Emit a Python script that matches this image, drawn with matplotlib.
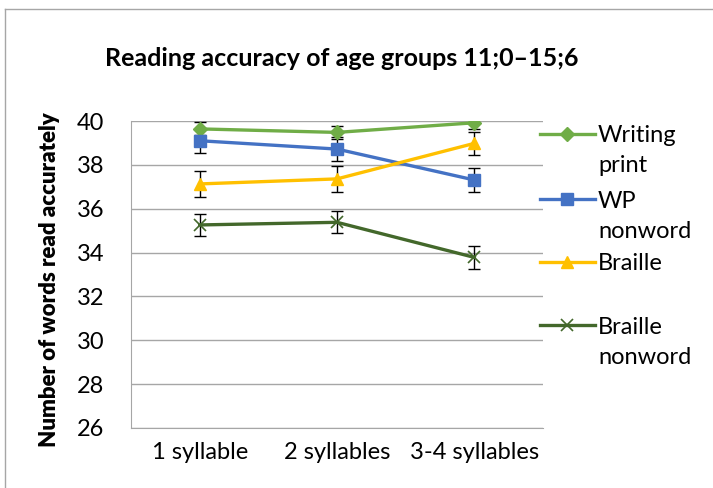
import matplotlib.pyplot as plt
from matplotlib.lines import Line2D

plt.rcParams['font.family'] = ['Lato', 'DejaVu Sans']

categories = ['1 syllable', '2 syllables', '3-4 syllables']

writing_print = [39.64, 39.48, 39.92]
writing_print_err = [0.3, 0.3, 0.3]
wp_nonword = [39.1, 38.72, 37.31]
wp_nonword_err = [0.55, 0.53, 0.55]
braille = [37.13, 37.36, 38.98]
braille_err = [0.58, 0.58, 0.53]
braille_nonword = [35.26, 35.38, 33.78]
braille_nonword_err = [0.51, 0.51, 0.51]

series = [
    ('Writing\nprint', writing_print, writing_print_err, '#70AD47', 'D', 7),
    ('WP\nnonword', wp_nonword, wp_nonword_err, '#4472C4', 's', 8),
    ('Braille', braille, braille_err, '#FFC000', '^', 9),
    ('Braille\nnonword', braille_nonword, braille_nonword_err, '#43682B', 'x', 9),
]

W, H = 713, 488
fig = plt.figure(figsize=(W / 100, H / 100), dpi=100)
ax = fig.add_axes([131 / W, 1 - 428 / H, 412 / W, 307 / H])

x = range(len(categories))
for name, vals, errs, color, marker, ms in series:
    ax.errorbar(x, vals, yerr=errs, fmt='none', ecolor='black', elinewidth=1,
                capsize=4, capthick=1, zorder=2)
    ax.plot(x, vals, color=color, lw=2.4, marker=marker, markersize=ms,
            markeredgewidth=1.2 if marker == 'x' else 1, zorder=3)

ax.set_xlim(-0.5, 2.5)
ax.set_ylim(26, 40)
ax.set_yticks(range(26, 41, 2))
ax.set_xticks(list(x))
ax.set_xticklabels(categories, fontsize=17)
ax.tick_params(axis='y', labelsize=17, length=0, pad=19)
ax.tick_params(axis='x', length=0, pad=10)
ax.grid(axis='y', color='#a6a6a6', lw=1)
ax.set_axisbelow(True)
for s in ['top', 'right']:
    ax.spines[s].set_visible(False)
for s in ['left', 'bottom']:
    ax.spines[s].set_color('#a6a6a6')

fig.text(50 / W, 1 - 280 / H, 'Number of words read accurately', rotation=90,
         ha='center', va='center', fontsize=16, fontweight='heavy')

fig.text(342 / W, 1 - 58 / H, 'Reading accuracy of age groups 11;0\u201315;6',
         ha='center', va='center', fontsize=18, fontweight='bold')

# legend drawn by hand so the wrapped labels line up like the original
legend_y = [134, 199, 262, 325]
for (name, vals, errs, color, marker, ms), ly in zip(series, legend_y):
    yf = 1 - ly / H
    fig.add_artist(Line2D([540 / W, 595 / W], [yf, yf], color=color, lw=2.4))
    fig.add_artist(Line2D([567 / W], [yf], color=color, marker=marker, markersize=ms,
                          markeredgewidth=1.2 if marker == 'x' else 1, lw=0))
    fig.text(598 / W, yf, name.split('\n')[0], ha='left', va='center_baseline', fontsize=17)
    if '\n' in name:
        fig.text(598 / W, yf - 30 / H, name.split('\n')[1], ha='left',
                 va='center_baseline', fontsize=17)

# chart area border (top and left edges visible in the original crop)
fig.add_artist(Line2D([5 / W, 1], [1 - 9 / H, 1 - 9 / H], color='#a6a6a6', lw=1))
fig.add_artist(Line2D([5 / W, 5 / W], [0, 1 - 9 / H], color='#a6a6a6', lw=1))

fig.savefig('out.png', dpi=100)
